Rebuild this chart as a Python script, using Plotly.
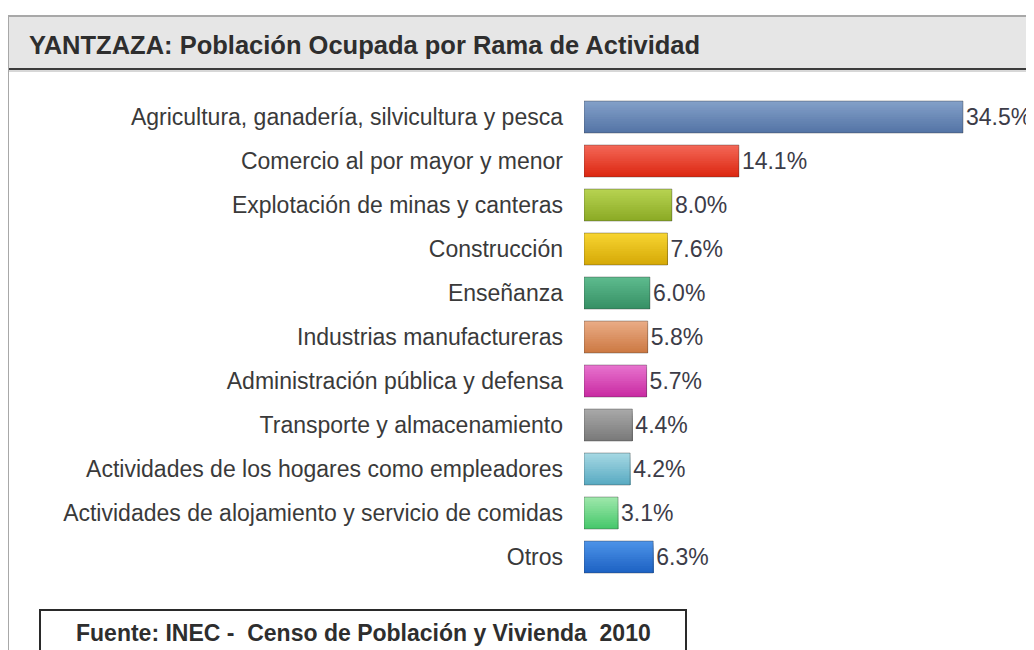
import plotly.graph_objects as go

categories = [
    "Agricultura, ganadería, silvicultura y pesca",
    "Comercio al por mayor y menor",
    "Explotación de minas y canteras",
    "Construcción",
    "Enseñanza",
    "Industrias manufactureras",
    "Administración pública y defensa",
    "Transporte y almacenamiento",
    "Actividades de los hogares como empleadores",
    "Actividades de alojamiento y servicio de comidas",
    "Otros",
]
values = [34.5, 14.1, 8.0, 7.6, 6.0, 5.8, 5.7, 4.4, 4.2, 3.1, 6.3]
top_colors = ["#829fc8", "#f36656", "#b6d250", "#f6d330", "#5dba8d", "#e9ab85",
              "#e772cd", "#a8a8a8", "#a4d7e3", "#9ce7aa", "#4c92e7"]
bottom_colors = ["#5575a6", "#dc2812", "#8cab26", "#d6aa08", "#379166", "#cd7a44",
                 "#c92ca3", "#7a7a7a", "#5aabc2", "#48c86c", "#1e63c4"]
title_text = "YANTZAZA: Población Ocupada por Rama de Actividad"
source_text = "Fuente: INEC -\u00a0 Censo de Población y Vivienda\u00a0 2010"

# page body has an 8px margin: figure is drawn from screen (8, 8)
OFF = 8
W, H = 1034 - OFF, 650 - OFF
ML, MR, MT, MB = 584 - OFF, 10, 95 - OFF, 71
PW, PH = W - ML - MR, H - MT - MB
px_per_unit = 379 / 34.5


def px(sx):
    return (sx - OFF - ML) / PW


def py(sy):
    return (H - MB - (sy - OFF)) / PH


def hex2rgb(h):
    h = h.lstrip("#")
    return [int(h[i:i + 2], 16) for i in (0, 2, 4)]


def mix(c1, c2, t):
    a, b = hex2rgb(c1), hex2rgb(c2)
    return "rgb(%d,%d,%d)" % tuple(round(a[i] + (b[i] - a[i]) * t) for i in range(3))


BAR_H = 32 / 44
N_BANDS = 14
fig = go.Figure()
step = BAR_H / N_BANDS
for k in range(N_BANDS):
    t = k / (N_BANDS - 1)
    fig.add_trace(go.Bar(
        x=values, y=categories, orientation="h",
        offset=-BAR_H / 2 + k * step, width=BAR_H - k * step,
        marker=dict(color=[mix(a, b, t) for a, b in zip(top_colors, bottom_colors)],
                    line=dict(width=0)),
        hoverinfo="skip", showlegend=False,
    ))
# outline + value labels
fig.add_trace(go.Bar(
    x=values, y=categories, orientation="h",
    offset=-BAR_H / 2, width=BAR_H,
    marker=dict(color="rgba(0,0,0,0)", line=dict(color="rgba(40,40,40,0.35)", width=1)),
    texttemplate="%{x:.1f}%", textposition="outside",
    textfont=dict(family="Liberation Sans, Arial", size=23, color="#3c3c48"),
    cliponaxis=False, hoverinfo="skip", showlegend=False,
))

shapes = [
    dict(type="rect", xref="paper", yref="paper", x0=px(8), x1=px(1040), y0=py(69), y1=py(16),
         fillcolor="#e6e6e6", line=dict(width=0), layer="below"),
    dict(type="line", xref="paper", yref="paper", x0=px(8), x1=px(1040), y0=py(16), y1=py(16),
         line=dict(color="#a8a8a8", width=2)),
    dict(type="line", xref="paper", yref="paper", x0=px(8), x1=px(1040), y0=py(69), y1=py(69),
         line=dict(color="#3c3c3c", width=2)),
    dict(type="line", xref="paper", yref="paper", x0=px(8), x1=px(1040), y0=py(71), y1=py(71),
         line=dict(color="#b0b0b0", width=1)),
    dict(type="line", xref="paper", yref="paper", x0=px(8), x1=px(8), y0=py(16), y1=py(660),
         line=dict(color="#a8a8a8", width=2)),
    dict(type="rect", xref="paper", yref="paper", x0=px(40), x1=px(686), y0=py(670), y1=py(610),
         fillcolor="white", line=dict(color="#2a2a2a", width=2)),
]

annotations = [
    dict(text=title_text, xref="paper", yref="paper", x=px(27), y=py(45),
         xanchor="left", yanchor="middle", showarrow=False,
         font=dict(family="Liberation Sans, Arial", size=25.5, color="#2e2e2e", weight="bold")),
    dict(text=source_text, xref="paper", yref="paper", x=px(363), y=py(633),
         xanchor="center", yanchor="middle", showarrow=False,
         font=dict(family="Liberation Sans, Arial", size=23, color="#2e2e2e", weight="bold")),
]

fig.update_layout(
    width=W, height=H,
    margin=dict(l=ML, r=MR, t=MT, b=MB, pad=0),
    paper_bgcolor="white", plot_bgcolor="white",
    barmode="overlay",
    showlegend=False,
    xaxis=dict(range=[0, PW / px_per_unit], visible=False, fixedrange=True),
    yaxis=dict(autorange="reversed", showgrid=False, zeroline=False, showline=False,
               ticks="", ticklabelstandoff=20,
               tickfont=dict(family="Liberation Sans, Arial", size=23, color="#3a3a3a"),
               fixedrange=True),
    shapes=shapes, annotations=annotations,
)

fig.write_html("out.html")
